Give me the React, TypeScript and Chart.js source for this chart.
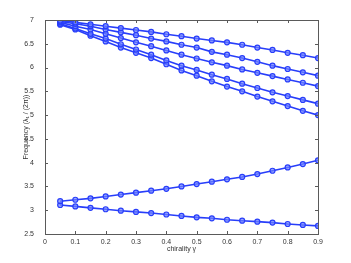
import React, { useEffect, useRef } from "react";
import { Chart, registerables } from "chart.js";

Chart.register(...registerables);

const gammas = [0.05, 0.1, 0.15, 0.2, 0.25, 0.3, 0.35, 0.4, 0.45, 0.5, 0.55, 0.6, 0.65, 0.7, 0.75, 0.8, 0.85, 0.9];

const modeA = [6.99, 6.95, 6.91, 6.87, 6.83, 6.79, 6.75, 6.70, 6.66, 6.61, 6.57, 6.53, 6.48, 6.42, 6.37, 6.31, 6.26, 6.20];
const modeB = [6.97, 6.92, 6.87, 6.80, 6.74, 6.68, 6.61, 6.55, 6.48, 6.42, 6.33, 6.27, 6.20, 6.12, 6.04, 5.97, 5.90, 5.83];
const modeC = [6.95, 6.87, 6.80, 6.71, 6.62, 6.53, 6.45, 6.36, 6.27, 6.19, 6.11, 6.04, 5.96, 5.89, 5.82, 5.75, 5.68, 5.61];
const modeD = [6.92, 6.82, 6.71, 6.61, 6.49, 6.38, 6.27, 6.15, 6.04, 5.95, 5.85, 5.76, 5.66, 5.57, 5.48, 5.40, 5.32, 5.24];
const modeE = [6.90, 6.80, 6.67, 6.55, 6.42, 6.31, 6.20, 6.07, 5.94, 5.83, 5.71, 5.60, 5.50, 5.39, 5.29, 5.19, 5.09, 5.00];
const modeF = [3.19, 3.22, 3.25, 3.29, 3.33, 3.37, 3.41, 3.45, 3.50, 3.55, 3.60, 3.65, 3.70, 3.76, 3.83, 3.90, 3.97, 4.05];
const modeG = [3.11, 3.08, 3.05, 3.02, 2.99, 2.965, 2.94, 2.91, 2.88, 2.85, 2.83, 2.80, 2.78, 2.76, 2.74, 2.71, 2.69, 2.67];

const xTicks = [0, 0.1, 0.2, 0.3, 0.4, 0.5, 0.6, 0.7, 0.8, 0.9];
const yTicks = [2.5, 3, 3.5, 4, 4.5, 5, 5.5, 6, 6.5, 7];

const xTitle = "chirality γ";
const yTitle = "Frequency (λ₁ / (2π))";

const allModes = [modeA, modeB, modeC, modeD, modeE, modeF, modeG];

const BLUE = "rgb(40,62,250)";
const FONT = "'Liberation Sans', Arial, sans-serif";

const framePlugin = {
  id: "frame",
  afterDraw(chart: any) {
    const { ctx, chartArea: a, scales } = chart;
    ctx.save();
    ctx.strokeStyle = "#5a5a5a";
    ctx.lineWidth = 1;
    ctx.strokeRect(Math.round(a.left) + 0.5, Math.round(a.top) + 0.5, Math.round(a.right - a.left), Math.round(a.bottom - a.top));
    const tl = 3;
    ctx.beginPath();
    for (const v of xTicks) {
      const x = Math.round(scales.x.getPixelForValue(v)) + 0.5;
      ctx.moveTo(x, a.bottom);
      ctx.lineTo(x, a.bottom - tl);
      ctx.moveTo(x, a.top);
      ctx.lineTo(x, a.top + tl);
    }
    for (const v of yTicks) {
      const y = Math.round(scales.y.getPixelForValue(v)) + 0.5;
      ctx.moveTo(a.left, y);
      ctx.lineTo(a.left + tl, y);
      ctx.moveTo(a.right, y);
      ctx.lineTo(a.right - tl, y);
    }
    ctx.stroke();
    ctx.restore();
  },
};

function App() {
  const ref = useRef<HTMLCanvasElement | null>(null);
  useEffect(() => {
    document.body.style.margin = "0";
    const canvas = ref.current;
    if (!canvas) return;
    const chart = new Chart(canvas, {
      type: "line",
      data: {
        datasets: allModes.map((m) => ({
          data: gammas.map((g, i) => ({ x: g, y: m[i] })),
          borderColor: BLUE,
          backgroundColor: "rgba(90,110,255,0.6)",
          borderWidth: 1.6,
          pointRadius: 2.5,
          pointBorderWidth: 1.2,
          pointBorderColor: BLUE,
          pointBackgroundColor: "rgba(110,130,255,0.7)",
          fill: false,
          tension: 0,
        })),
      },
      options: {
        animation: false,
        responsive: false,
        maintainAspectRatio: false,
        events: [],
        layout: { padding: { top: 20, right: 33, left: 0, bottom: 0 } },
        plugins: { legend: { display: false }, tooltip: { enabled: false } },
        scales: {
          x: {
            type: "linear",
            min: 0,
            max: 0.9,
            afterFit: (s: any) => { s.height = 29; },
            afterBuildTicks: (s: any) => { s.ticks = xTicks.map((v) => ({ value: v })); },
            grid: { display: false },
            border: { display: false },
            ticks: { color: "#333", font: { family: FONT, size: 7 }, padding: -4, maxRotation: 0, autoSkip: false, callback: (v: any) => String(v) },
            title: { display: true, text: xTitle, color: "#333", font: { family: FONT, size: 7 }, padding: { top: 0, bottom: 10 } },
          },
          y: {
            type: "linear",
            min: 2.5,
            max: 7,
            afterFit: (s: any) => { s.width = 45; },
            afterBuildTicks: (s: any) => { s.ticks = yTicks.map((v) => ({ value: v })); },
            grid: { display: false },
            border: { display: false },
            ticks: { color: "#333", font: { family: FONT, size: 7 }, padding: 3, autoSkip: false, callback: (v: any) => String(v) },
            title: { display: true, text: yTitle, color: "#333", font: { family: FONT, size: 7 }, padding: { top: 22, bottom: 0 } },
          },
        },
      },
      plugins: [framePlugin],
    });
    return () => chart.destroy();
  }, []);
  return (
    <div style={{ width: 351, height: 263, background: "#fff" }}>
      <canvas ref={ref} width={351} height={263} style={{ display: "block" }} />
    </div>
  );
}

export default App;
